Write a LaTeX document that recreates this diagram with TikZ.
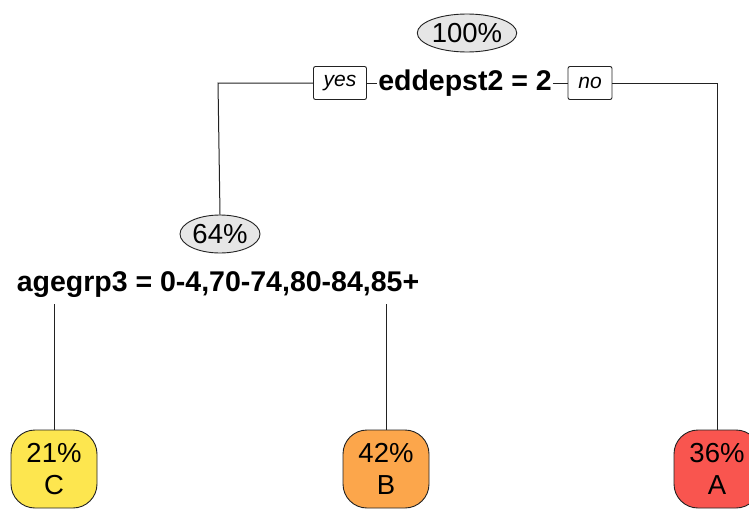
\documentclass[tikz,border=0pt]{standalone}
\usepackage{fontspec}
\setmainfont{Liberation Sans}
\usetikzlibrary{shapes.geometric}
\definecolor{ellfill}{HTML}{E6E6E6}
\definecolor{leafC}{HTML}{FDE64F}
\definecolor{leafB}{HTML}{FCA64B}
\definecolor{leafA}{HTML}{F9554F}
\definecolor{edgecol}{HTML}{222222}
\begin{document}
\begin{tikzpicture}[x=1pt,y=-1pt,
  conn/.style={draw=edgecol,line width=1pt},
  pct/.style={ellipse,draw=edgecol,line width=0.9pt,fill=ellfill,inner sep=0pt,
    minimum height=38pt,font=\fontsize{27.5}{30}\selectfont},
  splitlab/.style={inner sep=1pt,font=\fontsize{28.5}{30}\selectfont\bfseries},
  ynbox/.style={draw=edgecol,line width=0.9pt,fill=white,rounded corners=2pt,inner sep=0pt,
    minimum height=33pt,font=\fontsize{21}{24}\selectfont\itshape},
  leaf/.style={draw=edgecol,line width=0.9pt,rounded corners=24pt,inner sep=0pt,
    minimum width=86pt,minimum height=78pt,align=center,
    font=\fontsize{27.5}{32}\selectfont}
]
\useasboundingbox (0,0) rectangle (749,511);
\node[pct,minimum width=99pt] (root) at (467,33) {100\%};
\node[splitlab] (s1) at (465,83) {eddepst2 = 2};
\node[ynbox,minimum width=53pt] (yes) at (340,83) {yes};
\node[ynbox,minimum width=44pt] (no) at (590,83) {no};
\node[pct,minimum width=80pt] (n64) at (220,234) {64\%};
\node[splitlab] (s2) at (218,285) {agegrp3 = 0-4,70-74,80-84,85+};
\node[leaf,fill=leafC] (C) at (54,469) {21\%\\C};
\node[leaf,fill=leafB] (B) at (386,469) {42\%\\B};
\node[leaf,fill=leafA] (A) at (717,469) {36\%\\A};
\coordinate (lc) at (218,83);
\coordinate (rc) at (717,83);
\coordinate (c1) at (54,304);
\coordinate (c2) at (386,304);
\draw[conn] (yes.west) -- (lc) -- (n64.north);
\draw[conn] (yes.east) -- (s1.west);
\draw[conn] (s1.east) -- (no.west);
\draw[conn] (no.east) -- (rc) -- (A.north);
\draw[conn] (c1) -- (C.north);
\draw[conn] (c2) -- (B.north);
\end{tikzpicture}
\end{document}
